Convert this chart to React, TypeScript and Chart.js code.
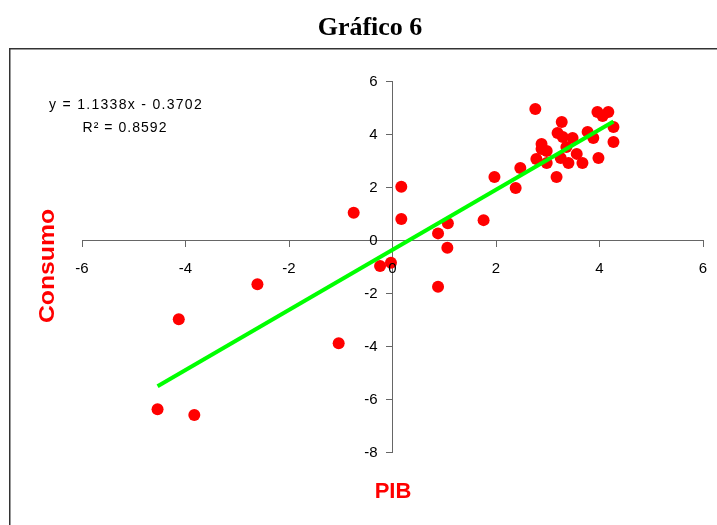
import React, { useEffect, useRef } from "react";
import { Chart, registerables } from "chart.js";

Chart.register(...registerables);

const pib: number[] = [
  2.76, 3.96, 4.17, 4.06, 4.27, 4.27, 3.98, 3.27, 3.19, 3.29, 3.48, 3.77, 3.88, 2.88,
  2.88, 2.98, 3.36, 3.56, 3.25, 3.4, 3.67, 2.78, 2.98, 2.47, 3.17, 1.97, 2.38,
  0.17, -0.75, 0.17, 1.07, 0.88, 1.76, 1.06, -0.24, -0.03, 0.88, -2.61, -4.13, -1.04,
  -4.54, -3.83,
];
const consumo: number[] = [
  4.94, 4.83, 4.83, 4.68, 4.26, 3.7, 3.09, 4.45, 4.04, 3.89, 3.85, 4.08, 3.85, 3.62,
  3.43, 3.36, 3.51, 3.25, 3.09, 2.91, 2.91, 3.06, 2.91, 2.72, 2.38, 2.38, 1.96,
  2.01, 1.03, 0.79, 0.63, 0.25, 0.75, -0.29, -0.98, -0.86, -1.76, -1.67, -2.99, -3.9,
  -6.39, -6.6,
];
const slope = 1.1338;
const intercept = -0.3702;
const equationLabel = "y = 1.1338x - 0.3702";
const r2Label = "R² = 0.8592";
const chartTitle = "Gráfico 6";
const xTitle = "PIB";
const yTitle = "Consumo";

const SANS = "'Liberation Sans', Arial, sans-serif";
const SERIF = "'Liberation Serif', 'Times New Roman', serif";

function spacedText(ctx: any, text: string, x: number, y: number, target: number, align: string) {
  ctx.save();
  ctx.letterSpacing = "0px";
  const w = ctx.measureText(text).width;
  const sp = Math.max(0, (target - w) / text.length);
  ctx.letterSpacing = `${sp}px`;
  ctx.textAlign = "left";
  const left = align === "center" ? x - target / 2 : x;
  ctx.fillText(text, left, y);
  ctx.restore();
}

export default function App() {
  const ref = useRef<HTMLCanvasElement | null>(null);
  useEffect(() => {
    let chart: Chart | null = null;
    let cancelled = false;
    const build = () => {
      if (cancelled || !ref.current) return;
      const points = pib.map((x, i) => ({ x, y: consumo[i] }));
      const xMin = Math.min(...pib);
      const xMax = Math.max(...pib);
      const trend = [
        { x: xMin, y: slope * xMin + intercept },
        { x: xMax, y: slope * xMax + intercept },
      ];
      const overlay = {
        id: "overlay",
        afterDraw(c: any) {
          const ctx = c.ctx;
          const xs = c.scales.x;
          const ys = c.scales.y;
          const x0 = xs.getPixelForValue(0);
          const y0 = ys.getPixelForValue(0);
          ctx.save();
          // tick labels
          ctx.fillStyle = "#000";
          ctx.font = `15px ${SANS}`;
          ctx.textAlign = "center";
          ctx.textBaseline = "middle";
          xs.ticks.forEach((t: any) => {
            ctx.fillText(String(t.value), xs.getPixelForValue(t.value), y0 + 29);
          });
          ctx.textAlign = "right";
          ys.ticks.forEach((t: any) => {
            ctx.fillText(String(t.value), x0 - 15, ys.getPixelForValue(t.value) + 1);
          });
          // frame
          ctx.strokeStyle = "#333";
          ctx.lineWidth = 1.5;
          ctx.strokeRect(9.75, 48.75, 800, 600);
          // title
          ctx.fillStyle = "#000";
          ctx.font = `bold 26px ${SERIF}`;
          ctx.textAlign = "center";
          ctx.fillText(chartTitle, 370, 28);
          // equation
          ctx.font = `14px ${SANS}`;
          spacedText(ctx, equationLabel, 49, 105, 154, "left");
          spacedText(ctx, r2Label, 125, 128, 85, "center");
          // axis titles
          ctx.fillStyle = "#FF0000";
          ctx.font = `bold 22px ${SANS}`;
          ctx.textAlign = "center";
          ctx.fillText(xTitle, 393, 492);
          const w3 = ctx.measureText(yTitle).width;
          ctx.save();
          ctx.translate(48, 266);
          ctx.rotate(-Math.PI / 2);
          ctx.scale(114 / w3, 1);
          ctx.fillText(yTitle, 0, 0);
          ctx.restore();
          ctx.restore();
        },
      };
      chart = new Chart(ref.current, {
        type: "scatter",
        data: {
          datasets: [
            {
              type: "line",
              data: trend,
              borderColor: "#00FF00",
              borderWidth: 4,
              pointRadius: 0,
              fill: false,
              order: 0,
            } as any,
            {
              data: points,
              backgroundColor: "#FF0000",
              borderWidth: 0,
              pointRadius: 6,
              order: 1,
            },
          ],
        },
        options: {
          animation: false,
          responsive: false,
          devicePixelRatio: 1,
          layout: { padding: { left: 82, right: 14, top: 81, bottom: 73 } },
          plugins: { legend: { display: false }, tooltip: { enabled: false }, title: { display: false } },
          scales: {
            x: {
              type: "linear",
              position: { y: 0 } as any,
              min: -6,
              max: 6,
              ticks: { stepSize: 2, autoSkip: false, display: false },
              grid: { drawOnChartArea: false, drawTicks: true, tickLength: 6, color: "#666" },
              border: { display: true, color: "#666", width: 1 },
            },
            y: {
              type: "linear",
              position: { x: 0 } as any,
              min: -8,
              max: 6,
              ticks: { stepSize: 2, autoSkip: false, display: false },
              grid: { drawOnChartArea: false, drawTicks: true, tickLength: 6, color: "#666" },
              border: { display: true, color: "#666", width: 1 },
            },
          },
        },
        plugins: [overlay],
      });
    };
    const fonts = (document as any).fonts;
    if (fonts && fonts.load) {
      Promise.all([
        fonts.load(`15px 'Liberation Sans'`),
        fonts.load(`bold 22px 'Liberation Sans'`),
        fonts.load(`bold 26px 'Liberation Serif'`),
      ])
        .catch(() => {})
        .then(build);
    } else {
      build();
    }
    return () => {
      cancelled = true;
      if (chart) chart.destroy();
    };
  }, []);
  return (
    <canvas
      ref={ref}
      width={717}
      height={525}
      style={{ position: "absolute", left: 0, top: 0, width: 717, height: 525 }}
    />
  );
}
